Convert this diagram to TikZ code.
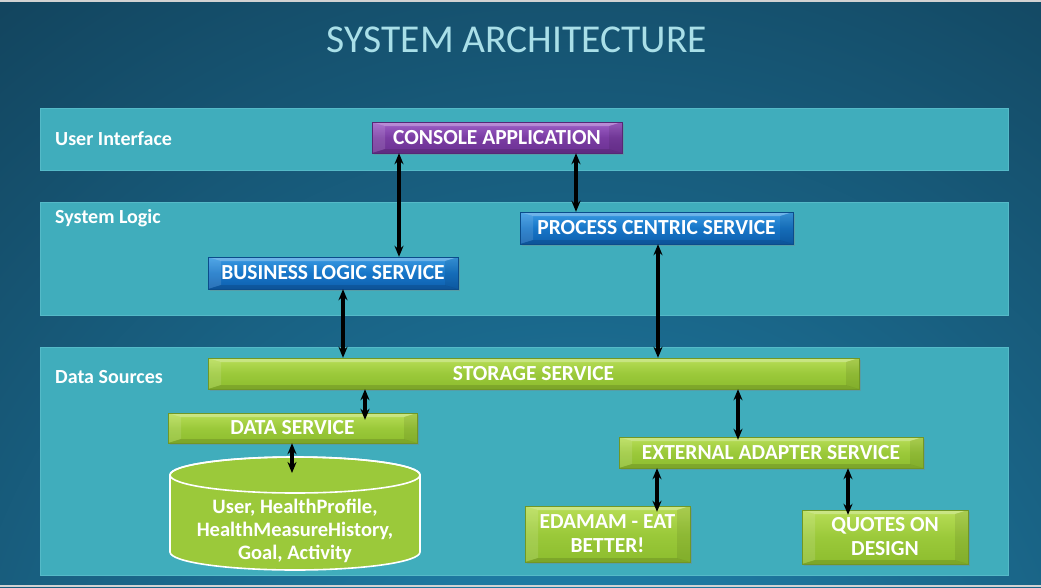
\documentclass[tikz,border=0pt]{standalone}
\usepackage{fontspec}
\setmainfont{Carlito}
\usetikzlibrary{arrows.meta,shadows,calc}
\definecolor{bgdark}{HTML}{0E3044}
\definecolor{bglight}{HTML}{2187B3}
\definecolor{band}{HTML}{40ADBC}
\definecolor{bandedge}{HTML}{55BAC8}
\definecolor{titlec}{HTML}{A9DFE8}
\definecolor{grn}{HTML}{9BC93A}
\definecolor{grntop}{HTML}{B8DE57}
\definecolor{grnbot}{HTML}{8DBD2E}
\definecolor{blu}{HTML}{1776C8}
\definecolor{blutop}{HTML}{3A9BE3}
\definecolor{blubot}{HTML}{0E5FAE}
\definecolor{pur}{HTML}{7A3CA3}
\definecolor{purtop}{HTML}{A062C9}
\definecolor{purbot}{HTML}{6C3193}
\tikzset{
  x=1pt, y=-1pt,
  bandbox/.style={fill=band, draw=bandedge, line width=0.8pt},
  bandlabel/.style={anchor=west, text=white, font=\bfseries\fontsize{20}{22}\selectfont, inner sep=0pt},
  bev/.style={path picture={
    \path (path picture bounding box.north west) coordinate (q1)
          (path picture bounding box.north east) coordinate (q2)
          (path picture bounding box.south east) coordinate (q3)
          (path picture bounding box.south west) coordinate (q4);
    \path ([shift={(13pt,-4pt)}]q1) coordinate (r1)
          ([shift={(-13pt,-4pt)}]q2) coordinate (r2)
          ([shift={(-13pt,4pt)}]q3) coordinate (r3)
          ([shift={(13pt,4pt)}]q4) coordinate (r4);
    \fill[white,opacity=.28] (q1)--(q2)--(r2)--(r1)--cycle;
    \fill[white,opacity=.12] (q1)--(r1)--(r4)--(q4)--cycle;
    \fill[black,opacity=.08] (q2)--(q3)--(r3)--(r2)--cycle;
    \fill[black,opacity=.12] (q4)--(r4)--(r3)--(q3)--cycle;
  }},
  svc/.style={bev, inner sep=0pt, align=center, text=white,
    font=\bfseries\fontsize{21.5}{24}\selectfont,
    drop shadow={opacity=.35, shadow xshift=1.5pt, shadow yshift=-2pt}},
  greenbox/.style={svc, top color=grntop, bottom color=grnbot, middle color=grn, draw=grnbot!80!black, line width=0.4pt},
  bluebox/.style={svc, top color=blutop, bottom color=blubot, middle color=blu, draw=blubot!80!black, line width=0.4pt},
  purplebox/.style={svc, top color=purtop, bottom color=purbot, middle color=pur, draw=purbot!80!black, line width=0.4pt},
  biarrow/.style={{Stealth[length=11pt,width=9pt]}-{Stealth[length=11pt,width=9pt]}, line width=3.4pt, black},
}
\begin{document}
\begin{tikzpicture}
\useasboundingbox (0,0) rectangle (1041,587);
% background
\begin{scope}
\clip (0,0) rectangle (1041,587);
\fill[bgdark] (0,0) rectangle (1041,587);
\shade[inner color=bglight, outer color=bgdark] (580,760) circle[radius=1250pt];
\fill[gray!35] (0,0) rectangle (1041,2);
\fill[gray!35] (0,585) rectangle (1041,587);
\end{scope}
% title
\node[text=titlec, font=\fontsize{39.5}{42}\selectfont] (title) at (517,40) {SYSTEM ARCHITECTURE};
% bands
\path[bandbox] (40,108) rectangle (1008,170);
\path[bandbox] (40,202) rectangle (1008,315);
\path[bandbox] (40,347) rectangle (1008,575);
\node[bandlabel] (lui) at (55,139) {User Interface};
\node[bandlabel] (lsl) at (55,218) {System Logic};
\node[bandlabel] (lds) at (55,377) {Data Sources};
% boxes
\node[purplebox, minimum width=250pt, minimum height=31pt] (cons) at (497,137.5) {CONSOLE APPLICATION};
\node[bluebox, minimum width=273pt, minimum height=32pt] (pcs) at (656.5,228) {PROCESS CENTRIC SERVICE};
\node[bluebox, minimum width=250pt, minimum height=32pt] (bls) at (333,273) {BUSINESS LOGIC SERVICE};
\node[greenbox, minimum width=651pt, minimum height=31pt] (stor) at (533.5,373.5) {STORAGE SERVICE};
\node[greenbox, minimum width=249pt, minimum height=30pt] (data) at (292.5,428) {DATA SERVICE};
\node[greenbox, minimum width=304pt, minimum height=31pt] (ext) at (771,452.5) {EXTERNAL ADAPTER SERVICE};
\node[greenbox, minimum width=165pt, minimum height=56pt] (ed) at (607.5,534) {EDAMAM - EAT\\BETTER!};
\node[greenbox, minimum width=166pt, minimum height=54pt] (qu) at (885,537) {QUOTES ON\\DESIGN};
% cylinder
\fill[grn, draw=white, line width=1.6pt] (170,475) -- (170,552) arc[start angle=180, end angle=360, x radius=125pt, y radius=18pt] -- (420,475) arc[start angle=0, end angle=180, x radius=125pt, y radius=18pt] -- cycle;
\draw[white, line width=1.6pt] (295,475) ellipse[x radius=125pt, y radius=18pt];
\coordinate (dbtop) at (292,473);
\node[text=white, font=\bfseries\fontsize{20.5}{23}\selectfont, align=center] (db) at (295,531) {User, HealthProfile,\\HealthMeasureHistory,\\Goal, Activity};
% connectors
\draw[biarrow] (cons.south -| 399,0) -- (bls.north -| 399,0);
\draw[biarrow] (cons.south -| 576,0) -- (pcs.north -| 576,0);
\draw[biarrow] (pcs.south -| 658,0) -- (stor.north -| 658,0);
\draw[biarrow] (bls.south -| 343,0) -- (stor.north -| 343,0);
\draw[biarrow] (stor.south -| 365,0) -- ([yshift=-7pt]data.north -| 365,0);
\draw[biarrow] (stor.south -| 738,0) -- ([yshift=-3pt]ext.north -| 738,0);
\draw[biarrow] (data.south -| 292,0) -- (dbtop);
\draw[biarrow] (ext.south -| 657,0) -- ([yshift=-6pt]ed.north -| 657,0);
\draw[biarrow] (ext.south -| 848,0) -- ([yshift=-5pt]qu.north -| 848,0);
\end{tikzpicture}
\end{document}
